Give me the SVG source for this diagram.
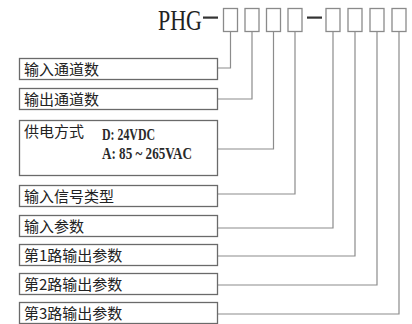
<svg xmlns="http://www.w3.org/2000/svg" width="412" height="324" viewBox="0 0 412 324">
<style>
.bg{fill:#fff}
.box{fill:#fff;stroke:#6a6a6a;stroke-width:1.3}
.slot{fill:#fff;stroke:#8a8a8a;stroke-width:1.3}
.con{fill:none;stroke:#8c8c8c;stroke-width:1.2}
.cn{font-family:"Noto Sans CJK SC","Noto Sans",sans-serif;font-size:15px;fill:#222}
.lat{font-family:"Liberation Serif",serif;font-size:16px;font-weight:bold;fill:#2a2a2a}
.title{font-family:"Liberation Serif",serif;font-size:30px;fill:#222}
</style>
<rect class="bg" x="0" y="0" width="412" height="324"/>
<g id="code">
<text class="title" x="158" y="30" textLength="44" lengthAdjust="spacingAndGlyphs">PHG</text>
<rect x="203" y="16.5" width="15" height="2.2" fill="#333"/>
<rect x="307" y="16.5" width="15" height="2.2" fill="#333"/>
<rect class="slot" x="223.5" y="8.5" width="14" height="23"/>
<rect class="slot" x="245" y="8.5" width="14" height="23"/>
<rect class="slot" x="266.5" y="8.5" width="14" height="23"/>
<rect class="slot" x="288" y="8.5" width="14" height="23"/>
<rect class="slot" x="326" y="8.5" width="14" height="23"/>
<rect class="slot" x="348" y="8.5" width="14" height="23"/>
<rect class="slot" x="370" y="8.5" width="14" height="23"/>
<rect class="slot" x="392" y="8.5" width="14" height="23"/>
</g>
<g id="connectors">
<polyline class="con" points="230.5,31.5 230.5,68 217.5,68"/>
<polyline class="con" points="252,31.5 252,99 217.5,99"/>
<polyline class="con" points="273.5,31.5 273.5,149 217.5,149"/>
<polyline class="con" points="295,31.5 295,194 217.5,194"/>
<polyline class="con" points="333,31.5 333,228 217.5,228"/>
<polyline class="con" points="355,31.5 355,256 217.5,256"/>
<polyline class="con" points="377,31.5 377,285 217.5,285"/>
<polyline class="con" points="399,31.5 399,314 217.5,314"/>
</g>
<g id="n1"><rect class="box" x="19.5" y="58.5" width="198" height="21"/><text class="cn" x="24" y="74.5">输入通道数</text></g>
<g id="n2"><rect class="box" x="19.5" y="88.5" width="198" height="21"/><text class="cn" x="24" y="104.5">输出通道数</text></g>
<g id="n3"><rect class="box" x="19.5" y="120.5" width="198" height="55"/>
<text class="cn" x="24" y="137">供电方式</text>
<text class="lat" x="102" y="140" textLength="53" lengthAdjust="spacingAndGlyphs">D: 24VDC</text>
<text class="lat" x="102" y="159" textLength="90" lengthAdjust="spacingAndGlyphs">A: 85 ~ 265VAC</text></g>
<g id="n4"><rect class="box" x="19.5" y="185.5" width="198" height="21"/><text class="cn" x="24" y="201.5">输入信号类型</text></g>
<g id="n5"><rect class="box" x="19.5" y="215.5" width="198" height="21"/><text class="cn" x="24" y="231.5">输入参数</text></g>
<g id="n6"><rect class="box" x="19.5" y="244.5" width="198" height="21"/><text class="cn" x="24" y="260.5">第1路输出参数</text></g>
<g id="n7"><rect class="box" x="19.5" y="273.5" width="198" height="21"/><text class="cn" x="24" y="289.5">第2路输出参数</text></g>
<g id="n8"><rect class="box" x="19.5" y="302.5" width="198" height="21"/><text class="cn" x="24" y="318.5">第3路输出参数</text></g>
</svg>
